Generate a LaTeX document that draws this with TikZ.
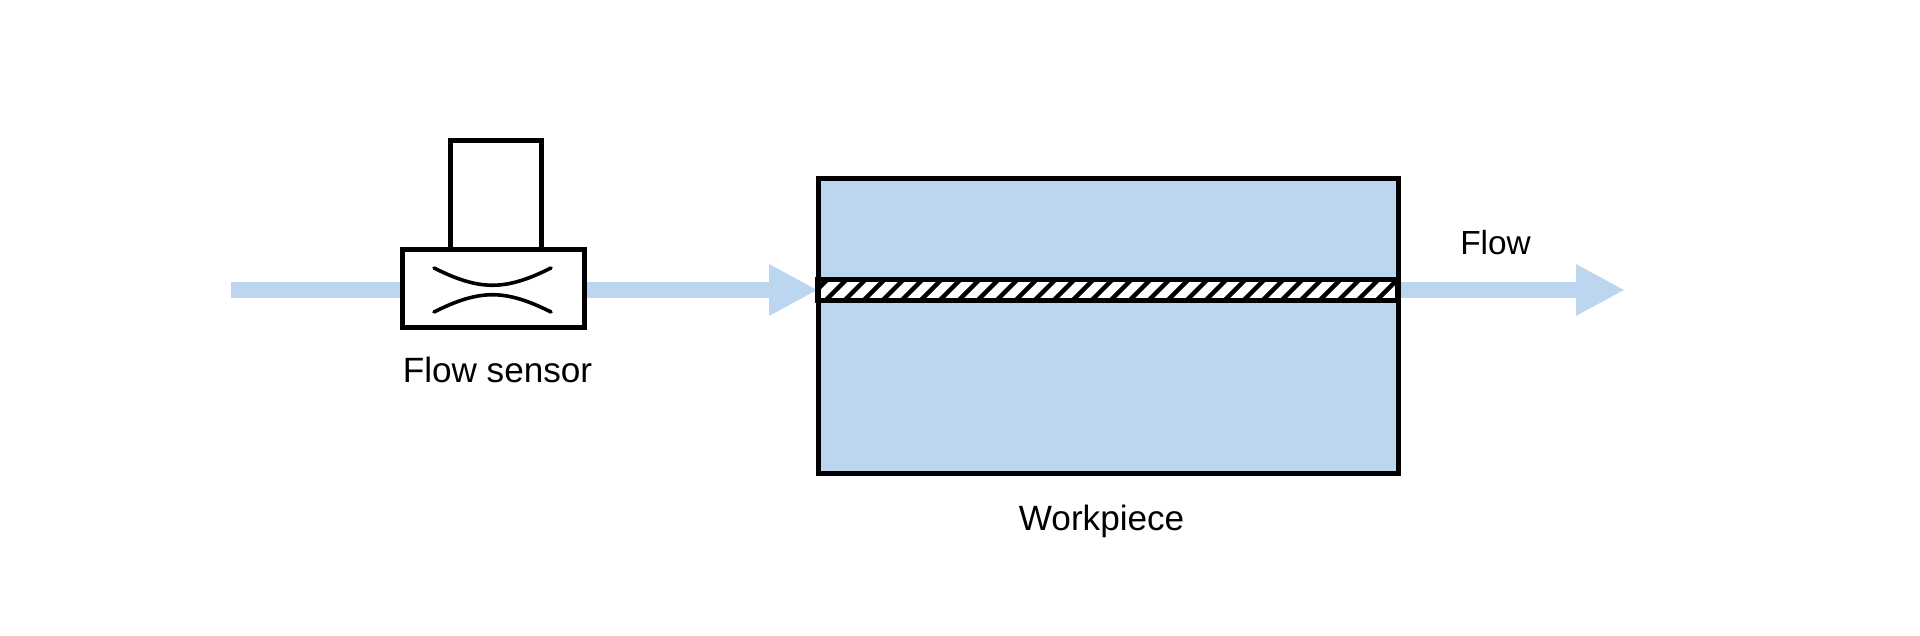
\documentclass[tikz,border=0pt]{standalone}
\usepackage{fontspec}
\setmainfont{Liberation Sans}
\usetikzlibrary{arrows.meta,backgrounds}
\definecolor{flowblue}{HTML}{BCD6EF}
\begin{document}
\begin{tikzpicture}[box node/.style={draw=black,line width=.05cm,outer sep=0pt,inner sep=0pt},flow arrow/.style={draw=flowblue,line width=.16cm},flow tip/.style={-{Triangle[length=.49cm,width=.48cm]}},venturi/.style={draw=black,line width=.036cm,line cap=round}]
\useasboundingbox (0,0) rectangle (19.2,-6.36);
\node[box node,fill=white,minimum width=.91cm,minimum height=1.09cm] (meter) at (4.955,-1.955) {};
\node[box node,fill=white,minimum width=1.82cm,minimum height=.78cm] (sensor) at (4.93,-2.89) {};
\node[box node,fill=flowblue,minimum width=5.80cm,minimum height=2.95cm] (workpiece) at (11.08,-3.265) {};
\node[box node,line width=.055cm,fill=white,minimum width=5.80cm,minimum height=.21cm,path picture={
\foreach \x in {-3.05,-2.86,...,2.95}
\draw[black,line width=.045cm] (\x,-.14) -- +(.28,.28);
}] (channel) at (11.08,-2.9) {};
%\node[box node] () at (,) {};
\coordinate (flowin) at (2.31,-2.9);
\coordinate (flowout) at (16.25,-2.9);
\begin{scope}[on background layer]
\draw[flow arrow] (flowin) -- (sensor.west |- flowin);
\draw[flow arrow,flow tip] (sensor.east |- flowin) -- (channel.west);
\draw[flow arrow,flow tip] (channel.east) -- (flowout);
\end{scope}
\draw[venturi] (4.34,-2.68) .. controls (4.8,-2.91) and (5.05,-2.91) .. (5.51,-2.68);
\draw[venturi] (4.34,-3.12) .. controls (4.8,-2.89) and (5.05,-2.89) .. (5.51,-3.12);
\node[anchor=base] (sensorlabel) at (4.975,-3.83) {Flow sensor};
\node[anchor=base] (workpiecelabel) at (11.016,-5.307) {Workpiece};
\node[anchor=base,font=\fontsize{9.5}{11}\selectfont] (flowlabel) at (14.955,-2.55) {Flow};
\end{tikzpicture}
\end{document}
